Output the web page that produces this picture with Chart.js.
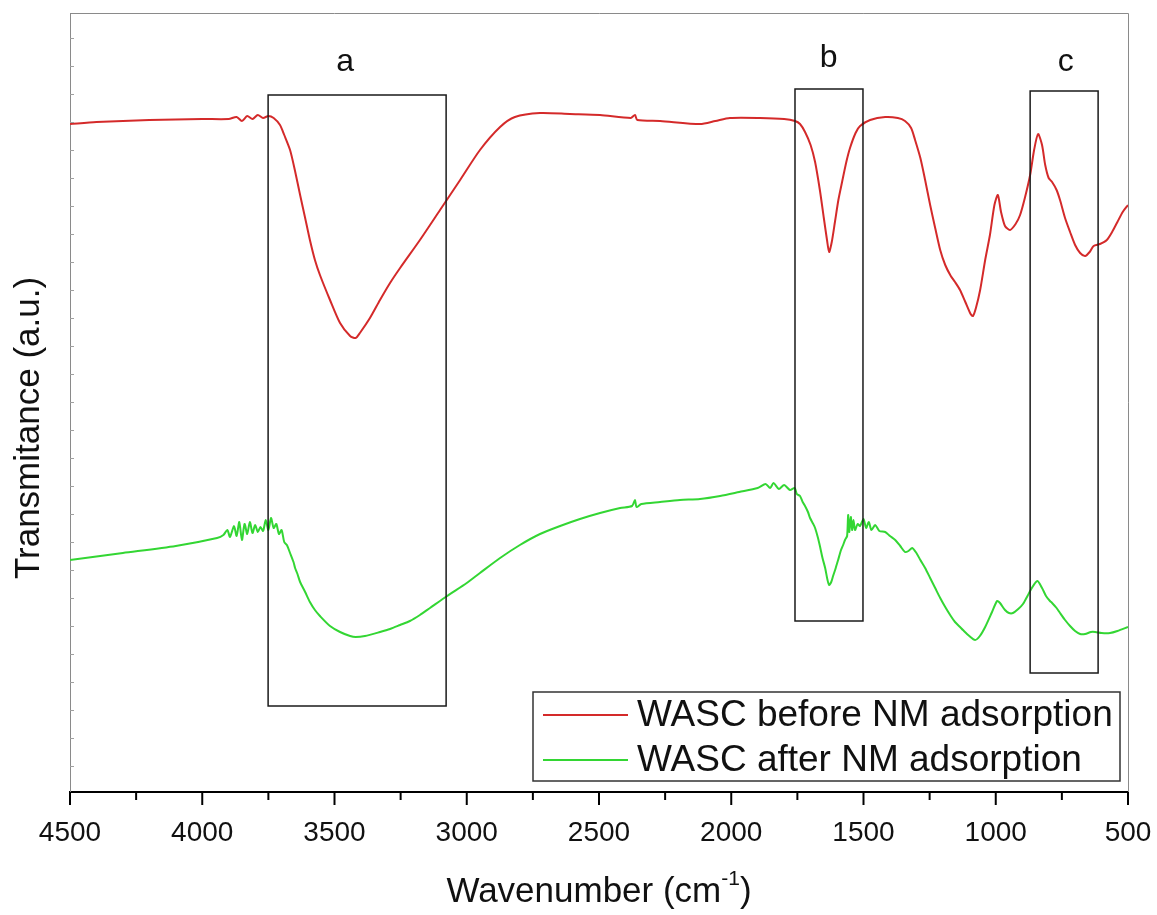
<!DOCTYPE html>
<html>
<head>
<meta charset="utf-8">
<title>FTIR WASC</title>
<script src="https://cdn.jsdelivr.net/npm/chart.js@4.4.1/dist/chart.umd.min.js"></script>
<style>
  html, body { margin: 0; padding: 0; background: #fff; }
  canvas { display: block; }
</style>
</head>
<body>
<canvas id="ftir" width="1157" height="915"></canvas>
<script>
/* ========= Data (arbitrary transmittance units) ========= */
const waveBefore = [4500, 4400, 4200, 4000, 3900, 3870, 3850, 3830, 3810, 3790, 3770, 3750, 3730, 3706, 3690, 3668, 3650, 3630, 3611, 3593, 3574, 3555, 3517, 3479, 3441, 3420, 3404, 3366, 3328, 3290, 3252, 3177, 3101, 3025, 2950, 2874, 2818, 2723, 2610, 2496, 2380, 2364, 2355, 2269, 2118, 2060, 2005, 1891, 1800, 1759, 1740, 1721, 1700, 1683, 1665, 1650, 1638, 1630, 1620, 1608, 1595, 1581, 1565, 1551, 1530, 1513, 1475, 1418, 1370, 1343, 1320, 1305, 1285, 1267, 1248, 1229, 1210, 1191, 1170, 1154, 1135, 1115, 1095, 1086, 1075, 1059, 1040, 1022, 1005, 992, 980, 965, 946, 925, 908, 890, 870, 855, 840, 825, 813, 800, 787, 770, 757, 738, 719, 700, 681, 662, 645, 630, 606, 580, 560, 540, 520, 500];
const transBefore = [668, 670, 672, 673, 673, 675, 671, 676, 673, 677, 674, 676, 674, 667, 657, 642, 622, 597, 574, 552, 532, 517, 492, 469, 456, 454, 459, 474, 492, 509, 524, 552, 582, 612, 642, 665, 675, 679, 678, 677, 674, 677, 672, 671, 668, 671, 674, 674, 673, 671, 668, 660, 647, 630, 602, 574, 552, 540, 550, 570, 592, 610, 630, 644, 659, 666, 672, 675, 674, 671, 664, 652, 634, 612, 587, 564, 542, 527, 516, 510, 502, 490, 478, 476, 484, 502, 532, 557, 587, 597, 580, 566, 562, 568, 577, 594, 617, 642, 658, 647, 627, 614, 610, 602, 592, 574, 560, 547, 539, 536, 540, 546, 548, 552, 560, 570, 580, 587];

const waveAfter = [4500, 4300, 4100, 3944, 3920, 3905, 3895, 3880, 3870, 3860, 3850, 3840, 3830, 3820, 3810, 3800, 3790, 3780, 3770, 3760, 3750, 3740, 3730, 3720, 3710, 3700, 3690, 3680, 3668, 3655, 3649, 3640, 3630, 3611, 3593, 3574, 3555, 3517, 3479, 3441, 3420, 3385, 3328, 3290, 3252, 3215, 3177, 3139, 3074, 3000, 2950, 2874, 2799, 2723, 2647, 2572, 2496, 2420, 2375, 2364, 2358, 2340, 2269, 2194, 2118, 2042, 1970, 1900, 1870, 1853, 1840, 1820, 1800, 1778, 1760, 1752, 1740, 1730, 1721, 1710, 1702, 1690, 1683, 1672, 1664, 1655, 1645, 1636, 1630, 1622, 1615, 1605, 1596, 1585, 1577, 1570, 1562, 1558, 1554, 1548, 1543, 1538, 1532, 1522, 1513, 1500, 1490, 1480, 1470, 1456, 1440, 1418, 1400, 1380, 1361, 1343, 1330, 1316, 1300, 1285, 1267, 1248, 1229, 1210, 1191, 1170, 1154, 1135, 1124, 1100, 1078, 1060, 1040, 1014, 995, 984, 965, 950, 935, 915, 897, 880, 866, 843, 825, 810, 795, 787, 770, 757, 738, 719, 700, 681, 662, 640, 624, 600, 568, 540, 500];
const transAfter = [232, 239, 246, 254, 257, 262, 255, 266, 256, 270, 252, 268, 258, 270, 259, 267, 260, 265, 261, 272, 262, 274, 264, 268, 258, 262, 250, 247, 239, 230, 224, 218, 210, 200, 190, 182, 176, 166, 160, 156, 155, 156, 160, 163, 167, 171, 177, 184, 196, 209, 219, 234, 247, 258, 266, 273, 279, 284, 286, 292, 285, 288, 290, 292, 293, 296, 300, 304, 308, 304, 309, 303, 307, 302, 304, 298, 296, 290, 286, 280, 274, 268, 264, 254, 245, 234, 224, 212, 207, 210, 216, 224, 232, 242, 247, 252, 256, 277, 260, 275, 262, 272, 262, 268, 266, 273, 264, 270, 262, 267, 261, 260, 256, 252, 246, 240, 241, 244, 239, 232, 224, 214, 204, 194, 185, 176, 170, 165, 162, 156, 152, 156, 165, 180, 191, 189, 182, 179, 179, 183, 188, 196, 203, 211, 204, 196, 191, 189, 184, 179, 172, 166, 161, 158, 158, 160, 160, 159, 159, 161, 165];

const seriesNames = ['WASC before NM adsorption', 'WASC after NM adsorption'];
const seriesColors = ['#d42a2a', '#33d633'];

// highlighted regions a / b / c (wavenumber span, transmittance span, label spot)
const regionLabels = ['a', 'b', 'c'];
const regionWave = [[3751, 3078], [1759, 1502], [870, 613]];
const regionTrans = [[86, 697], [171, 703], [119, 701]];
const regionLabelPos = [[3460, 730], [1632, 734], [735, 730]];

const xTicksMajor = [4500, 4000, 3500, 3000, 2500, 2000, 1500, 1000, 500];

function toPoints(xs, ys) {
  return xs.map((x, i) => ({ x: x, y: ys[i] }));
}

/* ========= Overlay drawing (frame, ticks, boxes, legend, titles) ========= */
const overlay = {
  id: 'overlay',
  afterDraw(chart) {
    const { ctx, chartArea: a, scales } = chart;
    const xs = scales.x, ys = scales.y;
    ctx.save();

    // top & right frame
    ctx.strokeStyle = '#8a8a8a';
    ctx.lineWidth = 1;
    ctx.beginPath();
    ctx.moveTo(a.left, a.top + 0.5); ctx.lineTo(a.right + 0.5, a.top + 0.5); ctx.lineTo(a.right + 0.5, a.bottom);
    ctx.stroke();

    // faint inward minor ticks on the left axis
    ctx.strokeStyle = '#a0a0a0';
    for (let v = 26; v < ys.max; v += 28) {
      const py = Math.round(ys.getPixelForValue(v)) + 0.5;
      ctx.beginPath(); ctx.moveTo(a.left, py); ctx.lineTo(a.left + 4, py); ctx.stroke();
    }

    // bottom ticks, major + minor, outward
    ctx.strokeStyle = '#000';
    ctx.lineWidth = 2;
    xTicksMajor.forEach((w, i) => {
      const px = xs.getPixelForValue(w);
      ctx.beginPath(); ctx.moveTo(px, a.bottom); ctx.lineTo(px, a.bottom + 13); ctx.stroke();
      if (i < xTicksMajor.length - 1) {
        const pm = xs.getPixelForValue((w + xTicksMajor[i + 1]) / 2);
        ctx.beginPath(); ctx.moveTo(pm, a.bottom); ctx.lineTo(pm, a.bottom + 8); ctx.stroke();
      }
    });

    // region boxes a / b / c
    ctx.strokeStyle = '#1a1a1a';
    ctx.lineWidth = 1.5;
    ctx.fillStyle = '#111';
    ctx.font = '32px "Liberation Sans", Arial, sans-serif';
    ctx.textAlign = 'center';
    ctx.textBaseline = 'middle';
    regionLabels.forEach((lab, i) => {
      const x1 = xs.getPixelForValue(regionWave[i][0]);
      const x2 = xs.getPixelForValue(regionWave[i][1]);
      const y1 = ys.getPixelForValue(regionTrans[i][1]);
      const y2 = ys.getPixelForValue(regionTrans[i][0]);
      ctx.strokeRect(x1, y1, x2 - x1, y2 - y1);
      ctx.fillText(lab, xs.getPixelForValue(regionLabelPos[i][0]), ys.getPixelForValue(regionLabelPos[i][1]));
    });

    // legend box
    const lx = 533, ly = 692, lw = 587, lh = 89;
    ctx.fillStyle = '#fff';
    ctx.fillRect(lx, ly, lw, lh);
    ctx.strokeStyle = '#333';
    ctx.lineWidth = 1.5;
    ctx.strokeRect(lx, ly, lw, lh);
    ctx.font = '37px "Liberation Sans", Arial, sans-serif';
    ctx.textAlign = 'left';
    chart.data.datasets.forEach((ds, i) => {
      const y = ly + 23 + i * 45;
      ctx.strokeStyle = ds.borderColor;
      ctx.lineWidth = 2;
      ctx.beginPath(); ctx.moveTo(lx + 10, y); ctx.lineTo(lx + 95, y); ctx.stroke();
      ctx.fillStyle = '#111';
      ctx.fillText(ds.label, lx + 104, y + 1);
    });

    // x title with superscript
    ctx.fillStyle = '#111';
    ctx.textBaseline = 'alphabetic';
    const big = '35px "Liberation Sans", Arial, sans-serif';
    const small = '21px "Liberation Sans", Arial, sans-serif';
    ctx.font = big;
    const p1 = 'Wavenumber (cm', p3 = ')';
    const w1 = ctx.measureText(p1).width, w3 = ctx.measureText(p3).width;
    ctx.font = small;
    const p2 = '-1';
    const w2 = ctx.measureText(p2).width;
    let tx = (a.left + a.right) / 2 - (w1 + w2 + w3) / 2;
    const base = 902;
    ctx.font = big; ctx.fillText(p1, tx, base); tx += w1;
    ctx.font = small; ctx.fillText(p2, tx, base - 17); tx += w2;
    ctx.font = big; ctx.fillText(p3, tx, base);

    // y title
    ctx.translate(29, 428);
    ctx.rotate(-Math.PI / 2);
    ctx.font = '35px "Liberation Sans", Arial, sans-serif';
    ctx.textAlign = 'center';
    ctx.textBaseline = 'middle';
    ctx.fillText('Transmitance (a.u.)', 0, 0);

    ctx.restore();
  }
};

/* ========= Chart ========= */
new Chart(document.getElementById('ftir'), {
  type: 'line',
  data: {
    datasets: [
      { label: seriesNames[0], data: toPoints(waveBefore, transBefore), borderColor: seriesColors[0], borderWidth: 2, pointRadius: 0, tension: 0.25, fill: false },
      { label: seriesNames[1], data: toPoints(waveAfter, transAfter), borderColor: seriesColors[1], borderWidth: 2, pointRadius: 0, tension: 0.25, fill: false }
    ]
  },
  options: {
    responsive: false,
    animation: false,
    layout: { padding: { top: 13, right: 29, left: 0, bottom: 0 } },
    plugins: { legend: { display: false }, tooltip: { enabled: false } },
    scales: {
      x: {
        type: 'linear',
        reverse: true,
        min: 500,
        max: 4500,
        afterBuildTicks: (s) => { s.ticks = xTicksMajor.map(v => ({ value: v })); },
        afterFit: (s) => { s.height = 123; s.paddingLeft = 0; s.paddingRight = 0; },
        ticks: {
          font: { size: 28, family: '"Liberation Sans", Arial, sans-serif' },
          color: '#111', padding: 24, maxRotation: 0, autoSkip: false,
          callback: (v) => String(v)
        },
        grid: { display: false, drawTicks: false },
        border: { display: true, color: '#000', width: 2 }
      },
      y: {
        min: 0,
        max: 779,
        afterFit: (s) => { s.width = 70; },
        ticks: { display: false },
        grid: { display: false, drawTicks: false },
        border: { display: true, color: '#8a8a8a', width: 1 }
      }
    }
  },
  plugins: [overlay]
});
</script>
</body>
</html>
